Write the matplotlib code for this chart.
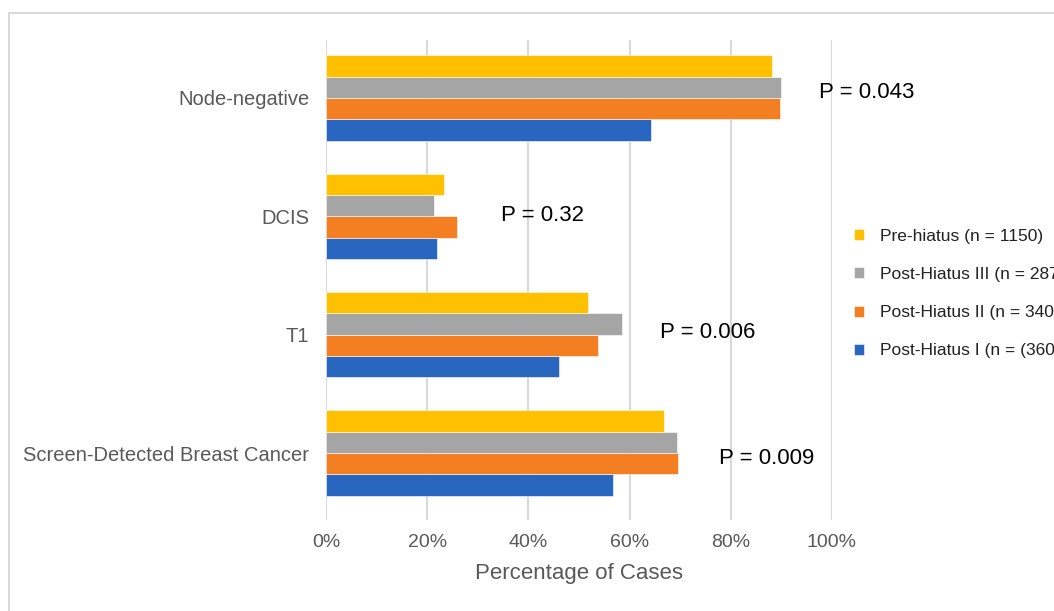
import matplotlib
matplotlib.use('Agg')
import matplotlib.pyplot as plt
from matplotlib.patches import Rectangle
import numpy as np

plt.rcParams['font.family'] = ['Liberation Sans', 'DejaVu Sans']

# categories listed bottom to top
categories = ['Screen-Detected Breast Cancer', 'T1', 'DCIS', 'Node-negative']
series = ['Post-Hiatus I (n = (360)', 'Post-Hiatus II (n = 340)',
          'Post-Hiatus III (n = 287)', 'Pre-hiatus (n = 1150)']
post_I = [56.7, 46.0, 21.9, 64.2]
post_II = [69.5, 53.7, 25.9, 89.7]
post_III = [69.3, 58.4, 21.3, 90.0]
pre = [66.8, 51.7, 23.4, 88.1]
p_labels = ['P = 0.009', 'P = 0.006', 'P = 0.32', 'P = 0.043']
p_xpos = [77.6, 66.1, 34.5, 97.4]
p_yoff = [-0.05, 0.02, 0.01, 0.05]

colors = ['#2866C0', '#F47E22', '#A5A5A5', '#FFC000']
values = [post_I, post_II, post_III, pre]

fig = plt.figure(figsize=(10.54, 6.11), dpi=100)
ax = fig.add_axes([326 / 1054, 1 - 520 / 611, 506 / 1054, 480 / 611])

y = np.arange(len(categories))
h = 0.18
bars = []
for i, (vals, c, lab) in enumerate(zip(values, colors, series)):
    b = ax.barh(y + (i - 1.5) * h, vals, height=h, color=c, label=lab,
                edgecolor='white', linewidth=0.4, zorder=3)
    bars.append(b)

for lab, xp, yo, yy in zip(p_labels, p_xpos, p_yoff, y):
    ax.text(xp, yy + yo, lab, fontsize=16, va='center', ha='left', color='black', zorder=4)

ax.set_xlim(0, 100)
ax.set_ylim(-0.566, 3.49)
ax.set_xticks([0, 20, 40, 60, 80, 100])
ax.set_xticklabels(['0%', '20%', '40%', '60%', '80%', '100%'])
ax.set_yticks(y)
ax.set_yticklabels(categories)
ax.tick_params(axis='x', length=0, pad=10, labelsize=14, labelcolor='#595959')
ax.tick_params(axis='y', length=0, pad=12, labelsize=14.5, labelcolor='#595959')
ax.grid(axis='x', color='#D9D9D9', linewidth=1.5, zorder=0)
for s in ax.spines.values():
    s.set_visible(False)
ax.set_xlabel('Percentage of Cases', fontsize=16, color='#595959', labelpad=9)

# legend runs off the right edge, as in the original
leg = fig.legend(handles=bars[::-1], labels=series[::-1], loc='upper left',
                 bbox_to_anchor=(838 / 1054, 1 - 213 / 611), frameon=False,
                 fontsize=12.5, handlelength=0.6, handleheight=0.6,
                 handletextpad=0.9, labelspacing=1.34)
for t in leg.get_texts():
    t.set_color('#222222')

fig.patches.append(Rectangle((9 / 1054, -0.05), 1.1, 1 - 13 / 611 + 0.05,
                             transform=fig.transFigure, fill=False,
                             edgecolor='#D9D9D9', linewidth=1.5))

fig.savefig('out.png', dpi=100)
